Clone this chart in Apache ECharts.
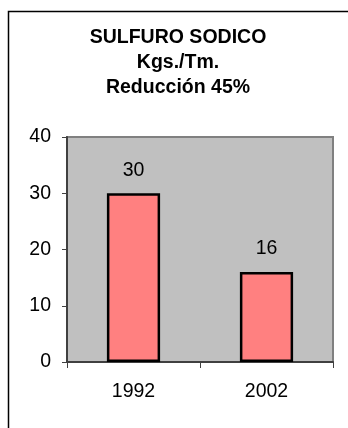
<!DOCTYPE html>
<html>
<head>
<meta charset="utf-8">
<script src="https://cdn.jsdelivr.net/npm/echarts@6/dist/echarts.min.js"></script>
<style>
html,body{margin:0;padding:0;background:#fff;}
#chart{width:348px;height:428px;}
</style>
</head>
<body>
<div id="chart"></div>
<script>
const categories = ['1992', '2002'];
const values = [30, 16];
const titleLines = ['SULFURO SODICO', 'Kgs./Tm.', 'Reducción 45%'];
const yTicks = { min: 0, max: 40, interval: 10 };

const FONT = "'Liberation Sans', Arial, sans-serif";
const chart = echarts.init(document.getElementById('chart'), null, { renderer: 'canvas' });

const titleGraphics = titleLines.map((t, i) => ({
  type: 'text',
  x: 178,
  y: 38 + i * 25,
  style: {
    text: t,
    font: 'bold 19.5px ' + FONT,
    fill: '#000',
    textAlign: 'center',
    textVerticalAlign: 'middle'
  }
}));

chart.setOption({
  animation: false,
  backgroundColor: '#fff',
  grid: {
    left: 67, top: 137, right: 15, bottom: 66,
    show: true,
    backgroundColor: '#c0c0c0',
    borderColor: '#808080',
    borderWidth: 2,
    containLabel: false
  },
  xAxis: {
    type: 'category',
    data: categories,
    axisLine: { show: true, lineStyle: { color: '#404040', width: 2 } },
    axisTick: { show: true, length: 6, alignWithLabel: false, lineStyle: { color: '#404040', width: 1 } },
    axisLabel: { color: '#000', fontSize: 19.5, fontFamily: FONT, margin: 20 },
    splitLine: { show: false }
  },
  yAxis: {
    type: 'value',
    min: yTicks.min, max: yTicks.max, interval: yTicks.interval,
    axisLine: { show: true, lineStyle: { color: '#404040', width: 2 } },
    axisTick: { show: true, length: 5, lineStyle: { color: '#404040', width: 1 } },
    axisLabel: { color: '#000', fontSize: 19.5, fontFamily: FONT, margin: 16 },
    splitLine: { show: false }
  },
  series: [{
    type: 'bar',
    data: values,
    barWidth: '40%',
    itemStyle: { color: '#ff8080', borderColor: '#000', borderWidth: 2.5 },
    label: { show: true, position: 'top', distance: 13, color: '#000', fontSize: 19.5, fontFamily: FONT }
  }],
  graphic: [
    {
      type: 'polyline',
      shape: { points: [[8.5, 428], [8.5, 11.5], [348, 11.5]] },
      style: { stroke: '#000', lineWidth: 1.5, fill: null }
    }
  ].concat(titleGraphics)
});
</script>
</body>
</html>
